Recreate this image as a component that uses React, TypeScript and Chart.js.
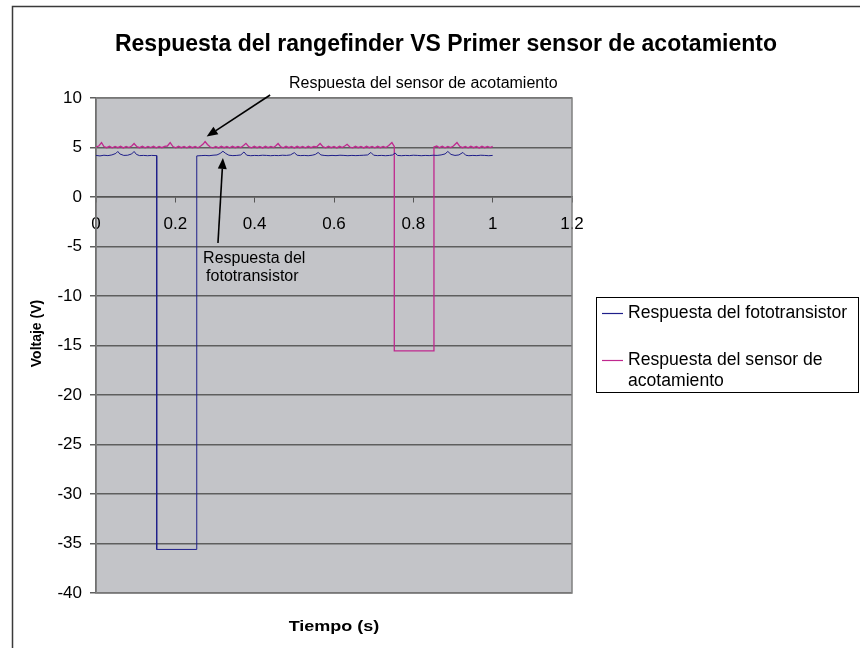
import React, { useEffect, useRef } from "react";
import { Chart, registerables } from "chart.js";

Chart.register(...registerables);

const chartTitle = "Respuesta del rangefinder VS Primer sensor de acotamiento";
const xTitle = "Tiempo (s)";
const yTitle = "Voltaje (V)";
const seriesNames = ["Respuesta del fototransistor", "Respuesta del sensor de acotamiento"];
const legendLines = [["Respuesta del fototransistor"], ["Respuesta del sensor de", "acotamiento"]];
const seriesColors = ["#1f1f8a", "#c0288e"];

const xMin = 0;
const xMax = 1.2;
const xStep = 0.2;
const yMin = -40;
const yMax = 10;
const yStep = 5;

const fotoTiempo = [
  0.0, 0.01, 0.02, 0.03, 0.04, 0.05, 0.055, 0.06, 0.07, 0.08, 0.09, 0.096, 0.102, 0.11, 0.12, 0.13, 0.14, 0.153,
  0.153, 0.254, 0.254, 0.265, 0.275, 0.285, 0.295, 0.305, 0.313, 0.32, 0.327, 0.335, 0.345, 0.355, 0.365, 0.373,
  0.38, 0.39, 0.4, 0.41, 0.42, 0.43, 0.44, 0.45, 0.46, 0.47, 0.48, 0.49, 0.5, 0.507, 0.515, 0.525, 0.535, 0.545,
  0.553, 0.56, 0.567, 0.575, 0.585, 0.595, 0.605, 0.615, 0.625, 0.635, 0.645, 0.655, 0.665, 0.675, 0.685, 0.693,
  0.7, 0.71, 0.72, 0.73, 0.74, 0.748, 0.754, 0.76, 0.77, 0.78, 0.79, 0.8, 0.81, 0.82, 0.83, 0.84, 0.85, 0.86, 0.87,
  0.88, 0.887, 0.895, 0.905, 0.915, 0.925, 0.932, 0.94, 0.95, 0.96, 0.97, 0.98, 0.99, 1.0,
];
const fotoVoltaje = [
  4.2, 4.15, 4.22, 4.18, 4.25, 4.4, 4.6, 4.35, 4.2, 4.22, 4.35, 4.6, 4.3, 4.18, 4.2, 4.17, 4.2, 4.18,
  -35.6, -35.6, 4.15, 4.18, 4.2, 4.17, 4.22, 4.25, 4.4, 4.62, 4.4, 4.22, 4.18, 4.2, 4.25, 4.55,
  4.22, 4.17, 4.2, 4.18, 4.22, 4.2, 4.17, 4.2, 4.18, 4.22, 4.2, 4.25, 4.48, 4.22, 4.18, 4.2, 4.17, 4.22,
  4.3, 4.5, 4.25, 4.2, 4.17, 4.2, 4.18, 4.22, 4.2, 4.17, 4.2, 4.18, 4.2, 4.22, 4.25, 4.5,
  4.22, 4.18, 4.2, 4.17, 4.2, 4.25, 4.45, 4.2, 4.17, 4.2, 4.18, 4.22, 4.2, 4.17, 4.2, 4.18, 4.22, 4.2, 4.25,
  4.35, 4.6, 4.3, 4.2, 4.25, 4.5, 4.22, 4.17, 4.2, 4.18, 4.22, 4.2, 4.17, 4.2,
];

const sensorTiempo = [
  0.0, 0.007, 0.014, 0.02, 0.027, 0.034, 0.041, 0.048, 0.055, 0.062, 0.069, 0.076, 0.083, 0.09, 0.096, 0.103,
  0.11, 0.117, 0.124, 0.131, 0.138, 0.145, 0.152, 0.159, 0.166, 0.173, 0.18, 0.187, 0.194, 0.201, 0.208, 0.215,
  0.222, 0.229, 0.236, 0.243, 0.25, 0.257, 0.264, 0.27, 0.275, 0.281, 0.288, 0.295, 0.302, 0.309, 0.316, 0.323,
  0.33, 0.337, 0.344, 0.351, 0.358, 0.365, 0.372, 0.378, 0.385, 0.392, 0.399, 0.406, 0.413, 0.42, 0.427, 0.434,
  0.441, 0.448, 0.454, 0.459, 0.465, 0.472, 0.479, 0.486, 0.493, 0.5, 0.507, 0.514, 0.521, 0.528, 0.535, 0.542,
  0.549, 0.556, 0.565, 0.572, 0.579, 0.586, 0.593, 0.6, 0.607, 0.614, 0.621, 0.628, 0.633, 0.64, 0.647, 0.654,
  0.661, 0.668, 0.675, 0.682, 0.689, 0.696, 0.703, 0.71, 0.717, 0.724, 0.731, 0.738, 0.746, 0.752, 0.752, 0.852,
  0.852, 0.859, 0.866, 0.873, 0.88, 0.887, 0.894, 0.901, 0.91, 0.917, 0.924, 0.931, 0.938, 0.945, 0.952, 0.959,
  0.966, 0.973, 0.98, 0.987, 0.994, 1.0,
];
const sensorVoltaje = [
  5.05, 5.15, 5.5, 5.1, 4.98, 5.12, 4.97, 5.1, 4.98, 5.12, 4.96, 5.1, 5.0, 5.15, 5.4, 5.08,
  4.98, 5.12, 4.97, 5.1, 5.0, 5.12, 4.97, 5.1, 4.98, 5.12, 5.15, 5.5, 5.1, 4.97, 5.12, 4.98,
  5.1, 4.97, 5.12, 4.98, 5.1, 4.97, 5.15, 5.35, 5.6, 5.3, 5.05, 4.97, 5.1, 4.96, 5.12, 4.98,
  5.1, 4.97, 5.12, 4.98, 5.1, 5.0, 5.2, 5.42, 5.08, 4.97, 5.12, 4.98, 5.1, 4.96, 5.12, 4.98,
  5.1, 5.0, 5.2, 5.4, 5.1, 4.97, 5.12, 4.98, 5.1, 4.96, 5.12, 4.98, 5.1, 4.97, 5.12, 4.98,
  5.1, 5.05, 5.4, 5.08, 4.97, 5.12, 4.98, 5.1, 4.96, 5.12, 5.0, 5.18, 5.32, 5.05, 4.97, 5.12,
  4.98, 5.1, 4.96, 5.12, 4.98, 5.1, 4.97, 5.12, 4.98, 5.1, 5.0, 5.2, 5.5, 5.1, -15.55, -15.55,
  5.05, 5.15, 4.98, 5.12, 4.97, 5.1, 5.0, 5.15, 5.5, 5.12, 4.98, 5.1, 4.97, 5.12, 4.98, 5.1,
  4.96, 5.12, 4.98, 5.1, 5.0, 5.12,
];

// Annotations (in data coordinates)
const annotationSensorText = "Respuesta del sensor de acotamiento";
const annotationSensorTextAt = [0.825, 11.5];
const annotationSensorArrowFrom = [0.439, 10.3];
const annotationSensorArrowTo = [0.279, 6.1];
const annotationFotoText = ["Respuesta del", "fototransistor"];
const annotationFotoTextAt = [0.27, -6.2];
const annotationFotoArrowFrom = [0.3075, -4.65];
const annotationFotoArrowTo = [0.32, 3.95];

const FONT = '"Liberation Sans", Arial, Helvetica, sans-serif';

function toPoints(xs: number[], ys: number[]) {
  return xs.map((x, i) => ({ x, y: ys[i] }));
}

function formatTick(v: number) {
  return String(Math.round(v * 100) / 100);
}

function drawArrow(ctx: CanvasRenderingContext2D, x1: number, y1: number, x2: number, y2: number) {
  const ang = Math.atan2(y2 - y1, x2 - x1);
  const headLen = 11;
  const headW = 4.5;
  const bx = x2 - headLen * Math.cos(ang);
  const by = y2 - headLen * Math.sin(ang);
  ctx.beginPath();
  ctx.moveTo(x1, y1);
  ctx.lineTo(bx, by);
  ctx.strokeStyle = "#000";
  ctx.lineWidth = 1.6;
  ctx.stroke();
  ctx.beginPath();
  ctx.moveTo(x2, y2);
  ctx.lineTo(bx + headW * Math.sin(ang), by - headW * Math.cos(ang));
  ctx.lineTo(bx - headW * Math.sin(ang), by + headW * Math.cos(ang));
  ctx.closePath();
  ctx.fillStyle = "#000";
  ctx.fill();
}

const decorPlugin = {
  id: "decor",
  beforeDraw(chart: any) {
    const { ctx, chartArea } = chart;
    ctx.save();
    ctx.fillStyle = "#ffffff";
    ctx.fillRect(0, 0, chart.width, chart.height);
    ctx.strokeStyle = "#3a3a3a";
    ctx.lineWidth = 1.5;
    ctx.beginPath();
    ctx.moveTo(12.5, chart.height);
    ctx.lineTo(12.5, 6.5);
    ctx.lineTo(chart.width, 6.5);
    ctx.stroke();
    ctx.fillStyle = "#c3c4c8";
    ctx.fillRect(chartArea.left, chartArea.top, chartArea.right - chartArea.left, chartArea.bottom - chartArea.top);
    ctx.restore();
  },
  beforeDatasetsDraw(chart: any) {
    const { ctx, chartArea } = chart;
    ctx.save();
    ctx.strokeStyle = "#808080";
    ctx.lineWidth = 1.5;
    ctx.strokeRect(chartArea.left, chartArea.top, chartArea.right - chartArea.left, chartArea.bottom - chartArea.top);
    ctx.restore();
  },
  afterDraw(chart: any) {
    const { ctx, chartArea } = chart;
    const xs = chart.scales.x;
    const ys = chart.scales.y;
    ctx.save();
    ctx.fillStyle = "#000";
    // title
    ctx.font = `bold 23px ${FONT}`;
    ctx.textAlign = "center";
    ctx.textBaseline = "middle";
    ctx.fillText(chartTitle, 446, 45);
    // x axis title (slightly widened like the reference)
    ctx.font = `bold 15px ${FONT}`;
    ctx.save();
    ctx.translate((chartArea.left + chartArea.right) / 2, 627);
    ctx.scale(1.2, 1);
    ctx.fillText(xTitle, 0, 0);
    ctx.restore();
    // y axis title
    ctx.font = `bold 14px ${FONT}`;
    ctx.save();
    ctx.translate(37, (chartArea.top + chartArea.bottom) / 2 - 12);
    ctx.rotate(-Math.PI / 2);
    ctx.fillText(yTitle, 0, 0);
    ctx.restore();

    // annotations
    ctx.font = `16px ${FONT}`;
    ctx.textAlign = "center";
    ctx.fillText(
      annotationSensorText,
      xs.getPixelForValue(annotationSensorTextAt[0]),
      ys.getPixelForValue(annotationSensorTextAt[1])
    );
    drawArrow(
      ctx,
      xs.getPixelForValue(annotationSensorArrowFrom[0]),
      ys.getPixelForValue(annotationSensorArrowFrom[1]),
      xs.getPixelForValue(annotationSensorArrowTo[0]),
      ys.getPixelForValue(annotationSensorArrowTo[1])
    );
    ctx.textAlign = "left";
    const fx = xs.getPixelForValue(annotationFotoTextAt[0]);
    const fy = ys.getPixelForValue(annotationFotoTextAt[1]);
    ctx.fillText(annotationFotoText[0], fx, fy);
    ctx.fillText(annotationFotoText[1], fx + 3, fy + 18);
    drawArrow(
      ctx,
      xs.getPixelForValue(annotationFotoArrowFrom[0]),
      ys.getPixelForValue(annotationFotoArrowFrom[1]),
      xs.getPixelForValue(annotationFotoArrowTo[0]),
      ys.getPixelForValue(annotationFotoArrowTo[1])
    );

    // legend
    const lx = 596.5;
    const ly = 297.5;
    ctx.strokeStyle = "#000";
    ctx.lineWidth = 1;
    ctx.strokeRect(lx, ly, 262, 95);
    ctx.font = `17.6px ${FONT}`;
    ctx.textAlign = "left";
    ctx.textBaseline = "middle";
    const rows = [
      [313, 0],
      [360, 1],
    ];
    rows.forEach(([yy, i]) => {
      ctx.strokeStyle = seriesColors[i];
      ctx.lineWidth = 1.2;
      ctx.beginPath();
      ctx.moveTo(602, yy + 0.5);
      ctx.lineTo(623, yy + 0.5);
      ctx.stroke();
      legendLines[i].forEach((t, k) => {
        ctx.fillText(t, 628, yy + k * 21);
      });
    });
    ctx.restore();
  },
};

export default function App() {
  const ref = useRef<HTMLCanvasElement | null>(null);
  useEffect(() => {
    if (!ref.current) return;
    const chart = new Chart(ref.current, {
      type: "scatter",
      data: {
        datasets: [
          {
            label: seriesNames[0],
            data: toPoints(fotoTiempo, fotoVoltaje),
            showLine: true,
            borderColor: seriesColors[0],
            backgroundColor: seriesColors[0],
            borderWidth: 1,
            pointRadius: 0,
            tension: 0,
          },
          {
            label: seriesNames[1],
            data: toPoints(sensorTiempo, sensorVoltaje),
            showLine: true,
            borderColor: seriesColors[1],
            backgroundColor: seriesColors[1],
            borderWidth: 1.3,
            pointRadius: 0,
            tension: 0,
          },
        ],
      },
      options: {
        animation: false,
        responsive: false,
        maintainAspectRatio: false,
        layout: { padding: { left: 0, top: 98, right: 288, bottom: 55 } },
        plugins: {
          legend: { display: false },
          title: { display: false },
          tooltip: { enabled: false },
        },
        scales: {
          x: {
            type: "linear",
            min: xMin,
            max: xMax,
            position: { y: 0 },
            ticks: {
              stepSize: xStep,
              color: "#000",
              font: { family: FONT, size: 17 },
              padding: 12,
              maxRotation: 0,
              callback: (v: any) => formatTick(Number(v)),
            },
            grid: { drawOnChartArea: false, drawTicks: true, tickLength: 5, color: "#555" },
            border: { display: true, color: "#555", width: 1.5 },
          },
          y: {
            type: "linear",
            min: yMin,
            max: yMax,
            position: "left",
            ticks: {
              stepSize: yStep,
              color: "#000",
              font: { family: FONT, size: 17 },
              padding: 8,
            },
            grid: { color: "#5e5e5e", lineWidth: 1.5, tickLength: 6 },
            border: { display: true, color: "#404040", width: 1.5 },
            afterFit: (scale: any) => {
              scale.width = 96;
            },
          },
        },
      },
      plugins: [decorPlugin],
    });
    return () => chart.destroy();
  }, []);
  return (
    <div style={{ position: "absolute", left: 0, top: 0, width: 860, height: 648 }}>
      <canvas ref={ref} width={860} height={648} style={{ width: 860, height: 648, display: "block" }} />
    </div>
  );
}
